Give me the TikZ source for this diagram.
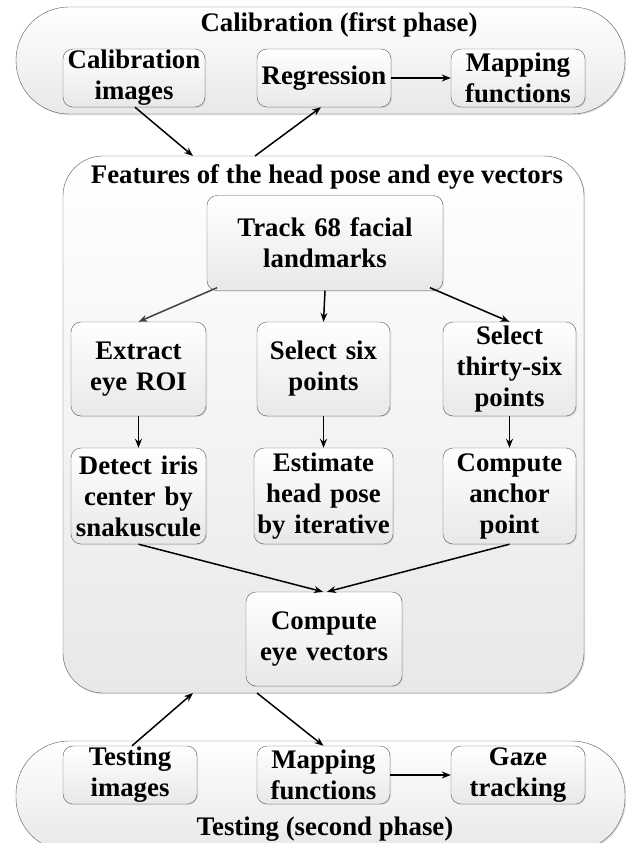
\documentclass[tikz,border=0pt]{standalone}
\usepackage{fontspec}
\setmainfont{Liberation Serif}
\usetikzlibrary{arrows.meta,shadows}
\tikzstyle{ph} = [rectangle, draw=black!65, top color=white, bottom color=black!9,
    minimum width=609pt, drop shadow={shadow xshift=1.2pt, shadow yshift=-1.2pt, opacity=0.25}]
\tikzstyle{bx} = [rectangle, draw=black!65, top color=white, bottom color=black!9,
    rounded corners=10pt, inner sep=0pt, text centered,
    drop shadow={shadow xshift=1pt, shadow yshift=-1pt, opacity=0.2},
    font=\bfseries\fontsize{26.8}{31}\selectfont]
\tikzstyle{ttl} = [anchor=base, inner sep=0pt, font=\bfseries\fontsize{26.8}{31}\selectfont]
\tikzstyle{ar} = [-{Stealth[length=9pt,width=7pt]}, line width=1.5pt]

\begin{document}
\begin{tikzpicture}[x=1pt,y=-1pt]
  \useasboundingbox (0,0) rectangle (630,843);

  % phases
  \node[ph, minimum height=107pt, rounded corners=53pt] (cal) at (320.5,60.5) {};
  \node[ph, minimum height=110pt, rounded corners=53pt] (tst) at (320.5,796) {};
  \node[ph, minimum width=521pt, minimum height=537pt, rounded corners=40pt] (feat) at (323.5,424.5) {};
  \node[ttl] (calt) at (339,32) {Calibration (first phase)};
  \node[ttl] (tstt) at (325,835) {Testing (second phase)};
  \node[ttl] (featt) at (327,183) {Features of the head pose and eye vectors};

  % calibration
  \node[bx, text width=142pt, minimum height=58pt] (ci) at (134,78) {Calibration\\images};
  \node[bx, text width=134pt, minimum height=58pt] (reg) at (324,78) {Regression};
  \node[bx, text width=134pt, minimum height=58pt] (mf1) at (518,78) {Mapping\\functions};

  % features
  \node[bx, text width=236pt, minimum height=95pt] (trk) at (325,243) {Track 68 facial\\landmarks};
  \node[bx, text width=135pt, minimum height=94pt] (roi) at (138.5,369) {Extract\\eye ROI};
  \node[bx, text width=133pt, minimum height=94pt] (six) at (323.5,369) {Select six\\points};
  \node[bx, text width=133pt, minimum height=94pt] (t36) at (509.5,369) {Select\\thirty-six\\points};
  \node[bx, text width=135pt, minimum height=96pt] (iris) at (138.5,496) {Detect iris\\center by\\snakuscule};
  \node[bx, text width=139pt, minimum height=96pt] (hp) at (323.5,496) {Estimate\\head pose\\by iterative};
  \node[bx, text width=133pt, minimum height=96pt] (anc) at (509.5,496) {Compute\\anchor\\point};
  \node[bx, text width=156pt, minimum height=94pt] (ev) at (324,639) {Compute\\eye vectors};

  % testing
  \node[bx, text width=134pt, minimum height=58pt] (ti) at (130,775) {Testing\\images};
  \node[bx, text width=133pt, minimum height=58pt] (mf2) at (323.5,775) {Mapping\\functions};
  \node[bx, text width=134pt, minimum height=58pt] (gz) at (518,775) {Gaze\\tracking};

  \coordinate (fin) at (193,156);
  \coordinate (fout) at (255,156);
  \coordinate (bin) at (193,693);
  \coordinate (bout) at (257,693);

  \draw[ar] ([xshift=1pt]ci.south) -- (fin);
  \draw[ar] (fout) -- ([xshift=-3pt]reg.south);
  \draw[ar] (reg) -- (mf1);
  \draw[ar, black!75] ([xshift=-108pt,yshift=3pt]trk.south) -- (roi.north);
  \draw[ar] (trk.south) -- (six.north);
  \draw[ar] ([xshift=105pt,yshift=3pt]trk.south) -- (t36.north);
  \draw[ar] (roi) -- (iris);
  \draw[ar] (six) -- (hp);
  \draw[ar] (t36) -- (anc);
  \draw[ar] (iris.south) -- ([xshift=-1pt]ev.north);
  \draw[ar] (anc.south) -- ([xshift=3pt]ev.north);
  \draw[ar] ([xshift=2pt]ti.north) -- (bin);
  \draw[ar] (bout) -- (mf2.north);
  \draw[ar] (mf2) -- (gz);
\end{tikzpicture}
\end{document}
